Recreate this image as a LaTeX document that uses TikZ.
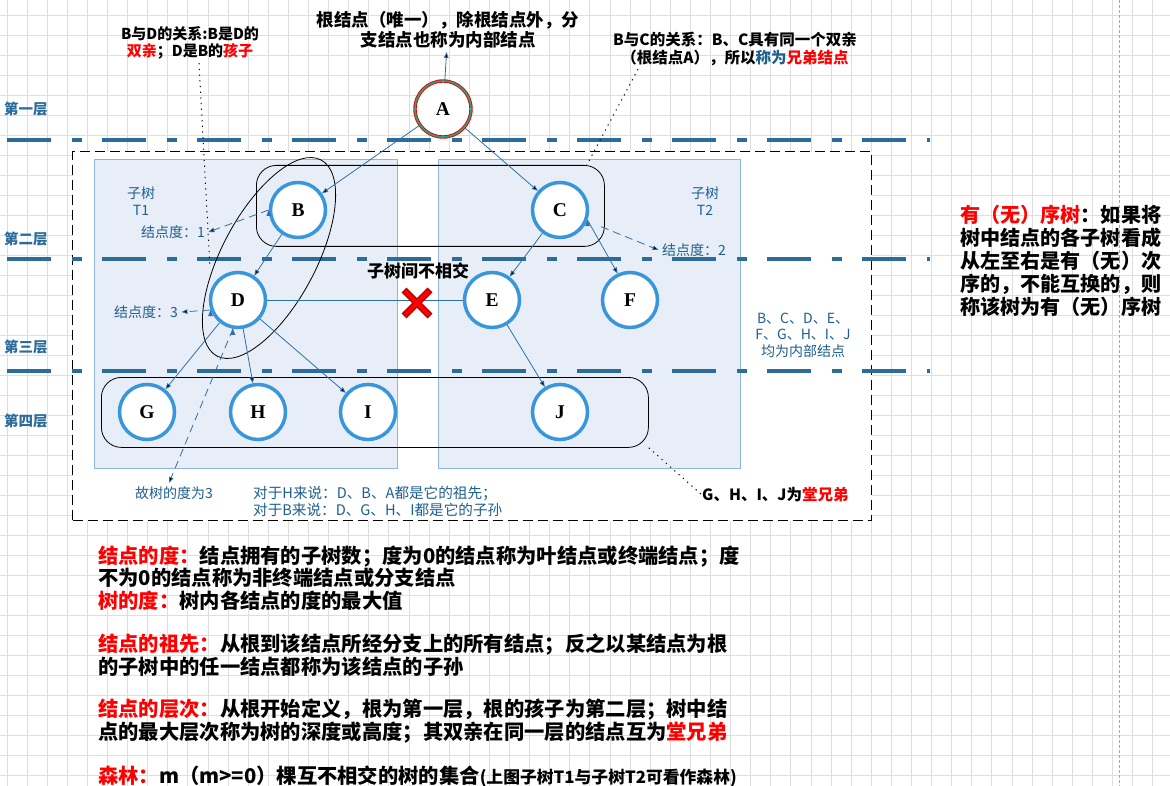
\documentclass[tikz,border=0pt]{standalone}
\usepackage{fontspec}
\setmainfont{Noto Sans CJK SC}
\newfontfamily\letterfont{Liberation Serif}
\usetikzlibrary{positioning,arrows.meta,calc,shapes.geometric}
\definecolor{nodeblue}{RGB}{57,150,219}
\definecolor{levelblue}{RGB}{43,108,155}
\definecolor{arrowblue}{RGB}{46,112,168}
\definecolor{txtblue}{RGB}{31,95,142}
\definecolor{treefill}{RGB}{231,238,248}
\definecolor{treeline}{RGB}{141,180,226}
\definecolor{gridgray}{RGB}{222,222,222}
\definecolor{rootgreen}{RGB}{50,160,125}

\begin{document}
\begin{tikzpicture}
    [x=1pt, y=-1pt,
     treenode/.style={circle, draw=nodeblue, line width=3.5pt, fill=white, minimum size=55pt, inner sep=0pt, font=\letterfont\bfseries\fontsize{19.5}{20}\selectfont},
     rootnode/.style={circle, draw=red!90!black, double=rootgreen, double distance=1.6pt, line width=0.9pt, fill=white, minimum size=56pt, inner sep=0pt, font=\letterfont\bfseries\fontsize{19.5}{20}\selectfont},
     subtree/.style={rectangle, draw=treeline, fill=treefill, line width=0.8pt, anchor=north west, inner sep=0pt},
     groupbox/.style={rectangle, rounded corners=20pt, draw=black, line width=0.8pt, anchor=north west, inner sep=0pt},
     link/.style={draw=arrowblue, line width=0.8pt, -{Triangle[length=6pt,width=4.5pt]}},
     hint/.style={link, dash pattern=on 8pt off 5pt},
     note/.style={draw=black, line width=1pt, dash pattern=on 1.2pt off 4.5pt},
     level/.style={draw=levelblue, line width=4pt, dash pattern=on 44pt off 21pt on 10pt off 20pt},
     lvtxt/.style={anchor=west, inner sep=0pt, text=levelblue, font=\bfseries\fontsize{14.5}{16}\selectfont},
     bluetxt/.style={text=txtblue, align=center, font=\fontsize{14}{16.5}\selectfont},
     headtxt/.style={align=center, font=\bfseries\fontsize{15.5}{17.5}\selectfont},
     bigtxt/.style={align=left, anchor=west, inner sep=0pt, font=\bfseries\fontsize{20.3}{22.5}\selectfont}]

    \useasboundingbox (0,0) rectangle (1170,786);
    \foreach \gx in {0,...,57} \draw [gridgray] ({6.7+20.1*\gx},0) -- ++(0,786);
    \foreach \gy in {0,...,38} \draw [gridgray] (0,{15+20*\gy}) -- ++(1170,0);
    \draw [gray!70, dash pattern=on 3pt off 2pt] (1119,0) -- (1119,786);

    \node [draw, fill=white, line width=1.2pt, dash pattern=on 10pt off 5pt, anchor=north west, inner sep=0pt, minimum width=799pt, minimum height=369pt] (frame) at (72,151) {};
    \node [subtree, minimum width=303pt, minimum height=309pt] (boxl) at (94,159) {};
    \node [subtree, minimum width=302pt, minimum height=309pt] (boxr) at (438,159) {};

    \draw [level] (7,140) -- (930,140);
    \draw [level] (7,259.5) -- (930,259.5);
    \draw [level] (7,371) -- (930,371);
    \node [lvtxt] (lv1) at (4,109) {第一层};
    \node [lvtxt] (lv2) at (4,239) {第二层};
    \node [lvtxt] (lv3) at (4,347) {第三层};
    \node [lvtxt] (lv4) at (4,421) {第四层};

    \node [ellipse, draw, line width=0.8pt, rotate=62, minimum width=222pt, minimum height=94pt] (bdring) at (269,258) {};
    \node [groupbox, minimum width=348pt, minimum height=81pt] (bcbox) at (256,165) {};
    \node [groupbox, minimum width=547pt, minimum height=70pt] (ghbox) at (101,377) {};

    \node [rootnode] (A) at (443,109) {A};
    \node [treenode] (B) at (298,210) {B};
    \node [treenode] (C) at (560,210) {C};
    \node [treenode] (D) at (238,300) {D};
    \node [treenode] (E) at (492,300) {E};
    \node [treenode] (F) at (630,300) {F};
    \node [treenode] (G) at (147,412) {G};
    \node [treenode] (H) at (258,412) {H};
    \node [treenode] (I) at (368,412) {I};
    \node [treenode] (J) at (560,412) {J};

    \node [headtxt, font=\bfseries\fontsize{17.5}{20}\selectfont] (roottxt) at (448,30) {根结点（唯一），除根结点外，分\\支结点也称为内部结点};
    \node [headtxt, font=\bfseries\fontsize{15}{17.5}\selectfont] (bdtxt) at (190,43) {B与D的关系:B是D的\\\textcolor{red}{双亲}；D是B的\textcolor{red}{孩子}};
    \node [headtxt] (bctxt) at (735,49) {B与C的关系：B、C具有同一个双亲\\（根结点A），所以\textcolor{txtblue}{称为}\textcolor{red}{兄弟结点}};

    \node [bluetxt] (t1lab) at (141,201) {子树\\T1};
    \node [bluetxt] (t2lab) at (705,201) {子树\\T2};
    \node [bluetxt] (deg1) at (173,232) {结点度：1};
    \node [bluetxt] (deg2) at (694,250) {结点度：2};
    \node [bluetxt] (deg3) at (146,312) {结点度：3};
    \node [bluetxt] (inner) at (803,335) {B、C、D、E、\\F、G、H、I、J\\均为内部结点};
    \node [bluetxt] (treedeg) at (174,493) {故树的度为3};
    \node [bluetxt, font=\fontsize{14.6}{17}\selectfont, align=left, anchor=west, inner sep=0pt] (hbnote) at (253,501) {对于H来说：D、B、A都是它的祖先；\\对于B来说：D、G、H、I都是它的子孙};
    \node [font=\bfseries\fontsize{15.5}{17}\selectfont, anchor=west, inner sep=0pt] (cousin) at (702,495) {G、H、I、J为\textcolor{red}{堂兄弟}};
    \node [font=\bfseries\fontsize{17}{18}\selectfont] (sep) at (418,271) {子树间不相交};

    \path [link] (A) edge (B) edge (C) edge (roottxt);
    \path [link] (B) edge (D);
    \path [link] (C) edge (E);
    \path [link] (C.-20) edge (F.115);
    \path [link] (D) edge (G) edge (H) edge (I);
    \path [link] (E) edge (J);
    \draw [arrowblue, line width=0.8pt] (D) -- (E);
    \path [hint] (B.west) edge (deg1.east);
    \path [hint, shorten <=15pt] (C) edge (deg2.west);
    \path [hint] (D.200) edge (deg3.east);
    \path [hint] (D.-100) edge ([xshift=-5pt]treedeg.north);

    \coordinate (cross) at (417,303);
    \draw [line width=7pt, red!70!black] ([shift={(-13,-13)}]cross) -- ([shift={(13,13)}]cross) ([shift={(13,-13)}]cross) -- ([shift={(-13,13)}]cross);
    \draw [line width=4pt, red] ([shift={(-12,-12)}]cross) -- ([shift={(12,12)}]cross) ([shift={(12,-12)}]cross) -- ([shift={(-12,12)}]cross);

    \coordinate (bdend) at (210,268);
    \draw [note] ([xshift=9pt]bdtxt.south) -- (bdend);
    \draw [note] ([xshift=-97pt]bctxt.south) -- ([xshift=-18pt]bcbox.north east);
    \draw [note] (ghbox.south east) -- (cousin.west);

    \node [bigtxt, font=\bfseries\fontsize{20.1}{23}\selectfont] (ordered) at (960,261) {\textcolor{red}{有（无）序树}：如果将\\树中结点的各子树看成\\从左至右是有（无）次\\序的，不能互换的，则\\称该树为有（无）序树};

    \node [bigtxt] (degdef) at (98,578) {\textcolor{red}{结点的度：}结点拥有的子树数；度为0的结点称为叶结点或终端结点；度\\不为0的结点称为非终端结点或分支结点\\\textcolor{red}{树的度：}树内各结点的度的最大值};
    \node [bigtxt] (ancdef) at (98,655) {\textcolor{red}{结点的祖先：}从根到该结点所经分支上的所有结点；反之以某结点为根\\的子树中的任一结点都称为该结点的子孙};
    \node [bigtxt] (leveldef) at (98,721) {\textcolor{red}{结点的层次：}从根开始定义，根为第一层，根的孩子为第二层；树中结\\点的最大层次称为树的深度或高度；其双亲在同一层的结点互为\textcolor{red}{堂兄弟}};
    \node [bigtxt] (forestdef) at (98,776) {\textcolor{red}{森林：}m（m>=0）棵互不相交的树的集合{\fontsize{16.8}{20}\selectfont(上图子树T1与子树T2可看作森林)}};
\end{tikzpicture}
\end{document}
